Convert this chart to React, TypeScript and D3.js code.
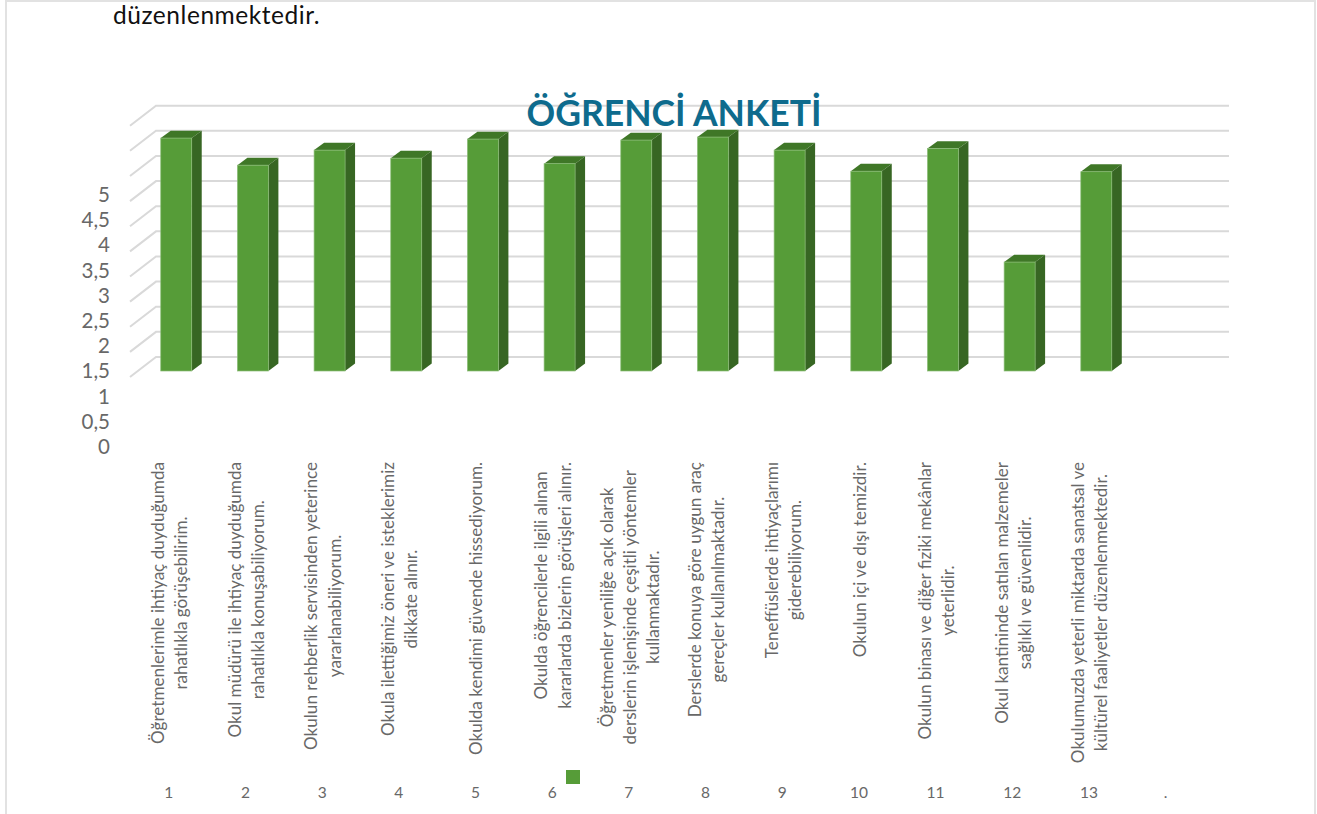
import React, { useEffect, useRef } from 'react';
import * as d3 from 'd3';

const categories = ['1', '2', '3', '4', '5', '6', '7', '8', '9', '10', '11', '12', '13', '.'];
const values = [4.64, 4.10, 4.40, 4.24, 4.62, 4.13, 4.60, 4.66, 4.40, 3.98, 4.43, 2.17, 3.97];
const yTicks = [0, 0.5, 1, 1.5, 2, 2.5, 3, 3.5, 4, 4.5, 5];
const questions = [
  ['Öğretmenlerimle ihtiyaç duyduğumda', 'rahatlıkla görüşebilirim.'],
  ['Okul müdürü ile ihtiyaç duyduğumda', 'rahatlıkla konuşabiliyorum.'],
  ['Okulun rehberlik servisinden yeterince', 'yararlanabiliyorum.'],
  ['Okula ilettiğimiz öneri ve isteklerimiz', 'dikkate alınır.'],
  ['Okulda kendimi güvende hissediyorum.'],
  ['Okulda öğrencilerle ilgili alınan', 'kararlarda bizlerin görüşleri alınır.'],
  ['Öğretmenler yeniliğe açık olarak', 'derslerin işlenişinde çeşitli yöntemler', 'kullanmaktadır.'],
  ['Derslerde konuya göre uygun araç', 'gereçler kullanılmaktadır.'],
  ['Teneffüslerde ihtiyaçlarımı', 'giderebiliyorum.'],
  ['Okulun içi ve dışı temizdir.'],
  ['Okulun binası ve diğer fiziki mekânlar', 'yeterlidir.'],
  ['Okul kantininde satılan malzemeler', 'sağlıklı ve güvenlidir.'],
  ['Okulumuzda yeterli miktarda sanatsal ve', 'kültürel faaliyetler düzenlenmektedir.'],
];

const FONT = 'Lato, Carlito, sans-serif';
const TEXT_COLOR = '#686868';

const App: React.FC = () => {
  const svgRef = useRef<SVGSVGElement>(null);

  useEffect(() => {
    if (!svgRef.current) return;
    const svg = d3.select(svgRef.current);
    svg.selectAll('*').remove();

    // page frame
    svg.append('path')
      .attr('d', 'M6,814V1H1315V814')
      .attr('fill', 'none')
      .attr('stroke', '#e2e2e2')
      .attr('stroke-width', 2);

    svg.append('text')
      .attr('x', 113)
      .attr('y', 24.3)
      .attr('font-size', 24.5)
      .attr('letter-spacing', 0.55)
      .attr('fill', '#111')
      .text('düzenlenmektedir.');

    const x = d3.scaleBand<string>().domain(categories).range([137.9, 1211.3]).paddingInner(0.596).paddingOuter(0.298);
    // the bars, the wall and the tick labels all sit at different heights in the 3D view
    const barY = d3.scaleLinear().domain([0, 5]).range([371, 120]);
    const gridY = d3.scaleLinear().domain([0, 5]).range([357, 105.7]);
    const labelY = d3.scaleLinear().domain([0, 5]).range([447, 195]);
    const depth = { x: 10, y: 7.4 };
    const floor = { x: 26, y: 20 };

    // Grid lines
    const grid = svg.append('g').attr('fill', 'none').attr('stroke', '#d9d9d9').attr('stroke-width', 2);
    yTicks.forEach(t => {
      const g = gridY(t);
      grid.append('path').attr('d', `M130,${g + floor.y}L${130 + floor.x},${g}H1229`);
    });

    // Y axis
    const yAxis = svg.append('g')
      .attr('transform', 'translate(110,0)')
      .call(d3.axisLeft(labelY).tickValues(yTicks).tickSize(0).tickPadding(0)
        .tickFormat(d => String(d).replace('.', ',')));
    yAxis.select('.domain').remove();
    yAxis.selectAll('text').attr('font-size', 20.5).attr('font-family', FONT).attr('fill', TEXT_COLOR);

    // Bars
    const bars = svg.append('g').selectAll('g').data(values).join('g');
    const left = (_: number, i: number) => x(categories[i]) as number;
    const w = x.bandwidth();
    bars.append('path')
      .attr('fill', '#3f7727')
      .attr('d', (d, i) => `M${left(d, i)},${barY(d)}l${depth.x},${-depth.y}h${w}l${-depth.x},${depth.y}z`);
    bars.append('path')
      .attr('fill', '#376623')
      .attr('d', (d, i) => `M${left(d, i) + w},${barY(d)}l${depth.x},${-depth.y}V${barY(0) - depth.y}l${-depth.x},${depth.y}z`);
    bars.append('rect')
      .attr('x', left)
      .attr('y', d => barY(d))
      .attr('width', w)
      .attr('height', d => barY(0) - barY(d))
      .attr('fill', '#569c38')
      .attr('stroke', '#8cbd78')
      .attr('stroke-width', 0.7);

    // Rotated category labels, tops aligned, lines centred in their block
    const lineGap = 23.2;
    questions.forEach((lines, i) => {
      const cx = (x(categories[i]) as number) + w / 2 - 0.5;
      const g = svg.append('g');
      const texts = g.selectAll('text').data(lines).join('text')
        .attr('font-size', 17.1)
        .attr('font-family', FONT)
        .attr('fill', TEXT_COLOR)
        .attr('text-anchor', 'middle')
        .text(d => d);
      const longest = d3.max(texts.nodes(), n => (n as SVGTextElement).getComputedTextLength()) || 0;
      const top = i === 6 ? 470 : 462;
      const midY = top + longest / 2;
      texts.attr('transform', (_, j) => {
        const lx = cx + (j - (lines.length - 1) / 2) * lineGap;
        return `translate(${lx},${midY}) rotate(-90)`;
      });
    });

    // Number row under the labels
    const xAxis = svg.append('g')
      .attr('transform', 'translate(-7.4,787)')
      .call(d3.axisBottom(x).tickSize(0).tickPadding(0));
    xAxis.select('.domain').remove();
    xAxis.selectAll('text').attr('font-size', 15.5).attr('font-family', FONT).attr('fill', TEXT_COLOR);

    // Legend swatch
    svg.append('rect').attr('x', 566).attr('y', 770).attr('width', 14).attr('height', 14).attr('fill', '#569c38');

    svg.append('text')
      .attr('x', 674)
      .attr('y', 126)
      .attr('text-anchor', 'middle')
      .attr('font-size', 35.5)
      .attr('font-weight', 700)
      .attr('fill', '#0e6b8d')
      .text('ÖĞRENCİ ANKETİ');
  }, []);

  return (
    <svg
      ref={svgRef}
      width={1317}
      height={814}
      style={{ position: 'absolute', left: 0, top: 0, background: '#fff', fontFamily: FONT }}
    />
  );
};

export default App;
